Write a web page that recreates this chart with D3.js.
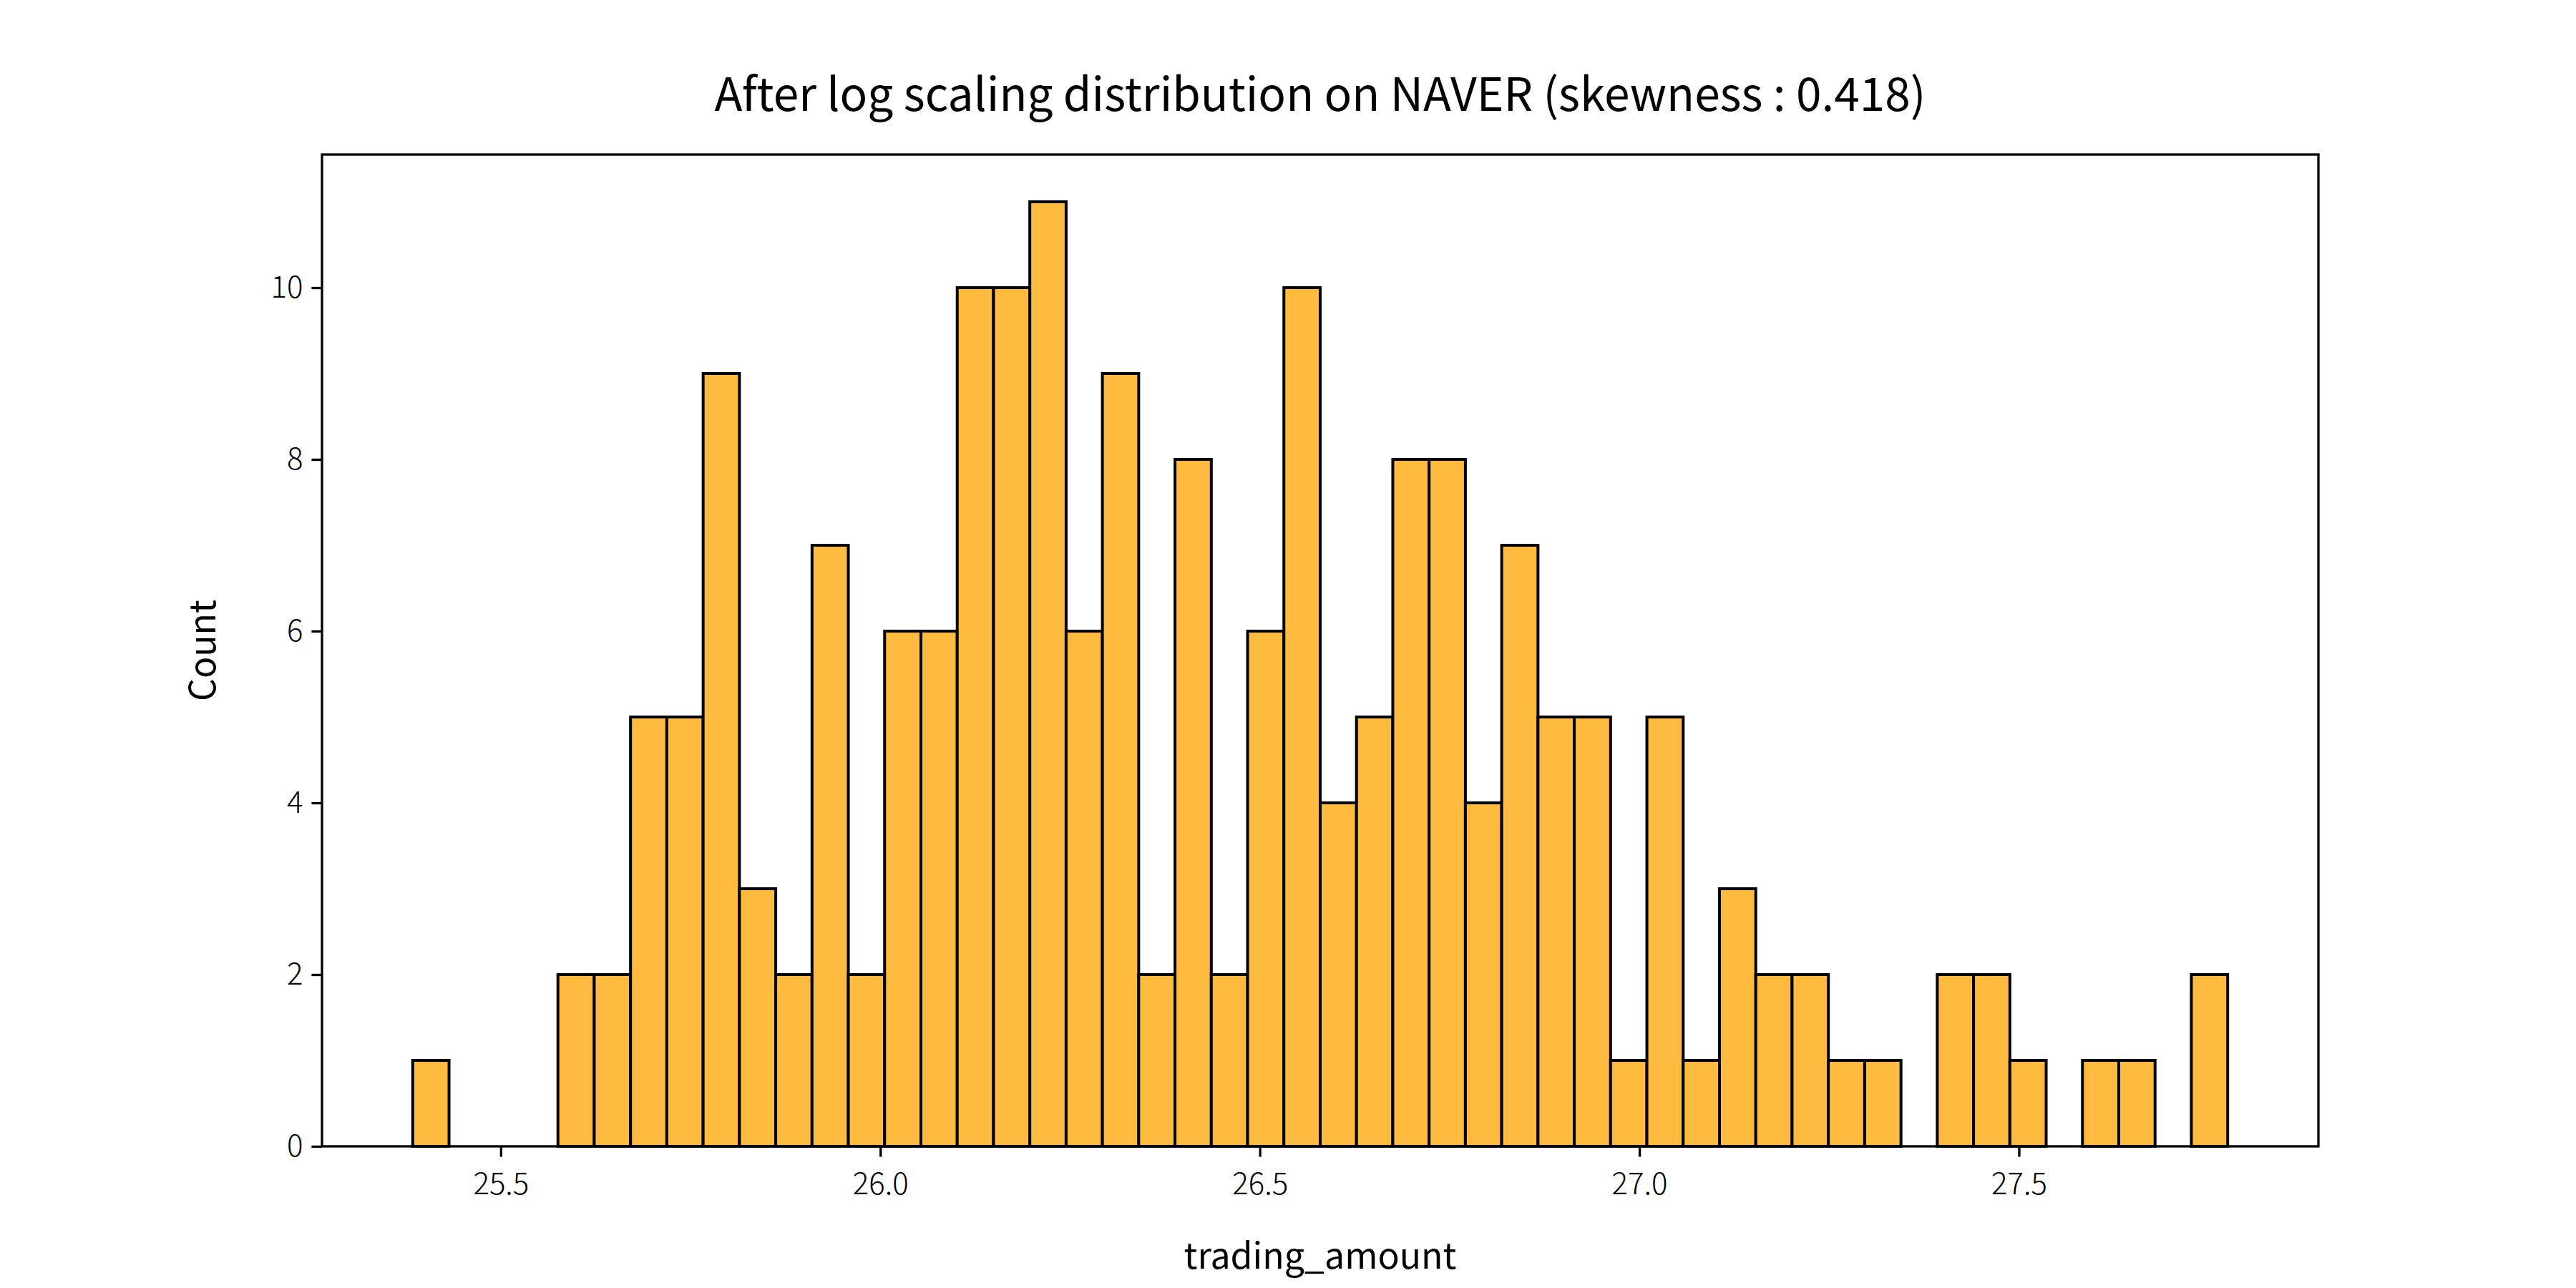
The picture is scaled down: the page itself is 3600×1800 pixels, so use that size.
<!DOCTYPE html>
<html>
<head>
<meta charset="utf-8">
<script src="https://cdn.jsdelivr.net/npm/d3@7"></script>
<style>
  body { margin: 0; background: #fff; }
  text { font-family: "Noto Sans CJK KR", "Noto Sans", sans-serif; fill: #000; }
  .tick text { font-weight: 300; }
</style>
</head>
<body>
<svg id="chart" width="3600" height="1800"></svg>
<script>
// histogram of log(trading_amount), 50 bins
var binLo = 25.384
var binHi = 27.775
var counts = [1, 0, 0, 0, 2, 2, 5, 5, 9, 3,
              2, 7, 2, 6, 6, 10, 10, 11, 6, 9,
              2, 8, 2, 6, 10, 4, 5, 8, 8, 4,
              7, 5, 5, 1, 5, 1, 3, 2, 2, 1,
              1, 0, 2, 2, 1, 0, 1, 1, 0, 2]
var xTicks = [25.5, 26.0, 26.5, 27.0, 27.5]
var yTicks = [0, 2, 4, 6, 8, 10]

var titleText = "After log scaling distribution on NAVER (skewness : 0.418)"
var xLabel = "trading_amount"
var yLabel = "Count"

var svg = d3.select("#chart")
// plot box (window.top is reserved, so no "top" here)
var pLeft = 450, pRight = 3240, pTop = 216, pBottom = 1602

var step = (binHi - binLo) / counts.length
var bins = counts.map((c, i) => ({ x0: binLo + i * step, x1: binLo + (i + 1) * step, n: c }))

var pad = 0.05 * (binHi - binLo)
var x = d3.scaleLinear().domain([binLo - pad, binHi + pad]).range([pLeft, pRight])
var y = d3.scaleLinear().domain([0, d3.max(counts) * 1.05]).range([pBottom, pTop])

svg.append("g")
  .selectAll("rect")
  .data(bins.filter(d => d.n > 0))
  .join("rect")
    .attr("x", d => x(d.x0))
    .attr("y", d => y(d.n))
    .attr("width", d => x(d.x1) - x(d.x0))
    .attr("height", d => y(0) - y(d.n))
    .attr("fill", "#FFBB40")
    .attr("stroke", "#000")
    .attr("stroke-width", 4)

// axes
var xAxis = d3.axisBottom(x).tickValues(xTicks).tickFormat(d3.format(".1f")).tickSize(14.6).tickPadding(12)
var yAxis = d3.axisLeft(y).tickValues(yTicks).tickFormat(d3.format("d")).tickSize(14.6).tickPadding(12)

var gx = svg.append("g").attr("transform", `translate(0,${pBottom})`).call(xAxis)
var gy = svg.append("g").attr("transform", `translate(${pLeft},0)`).call(yAxis)

;[gx, gy].forEach(g => {
  g.select(".domain").remove()
  g.selectAll(".tick line").attr("stroke", "#000").attr("stroke-width", 3.3)
  g.selectAll(".tick text").attr("font-size", 42).attr("fill", "#000")
})
gx.selectAll(".tick text").attr("dy", "0.95em")

// frame
svg.append("rect")
  .attr("x", pLeft).attr("y", pTop)
  .attr("width", pRight - pLeft).attr("height", pBottom - pTop)
  .attr("fill", "none").attr("stroke", "#000").attr("stroke-width", 3.3)

// labels
svg.append("text")
  .attr("x", (pLeft + pRight) / 2).attr("y", 155)
  .attr("text-anchor", "middle").attr("font-size", 64)
  .text(titleText)

svg.append("text")
  .attr("x", (pLeft + pRight) / 2).attr("y", 1773)
  .attr("text-anchor", "middle").attr("font-size", 50)
  .text(xLabel)

svg.append("text")
  .attr("transform", `translate(301,${(pTop + pBottom) / 2}) rotate(-90)`)
  .attr("text-anchor", "middle").attr("font-size", 50)
  .text(yLabel)
</script>
</body>
</html>
